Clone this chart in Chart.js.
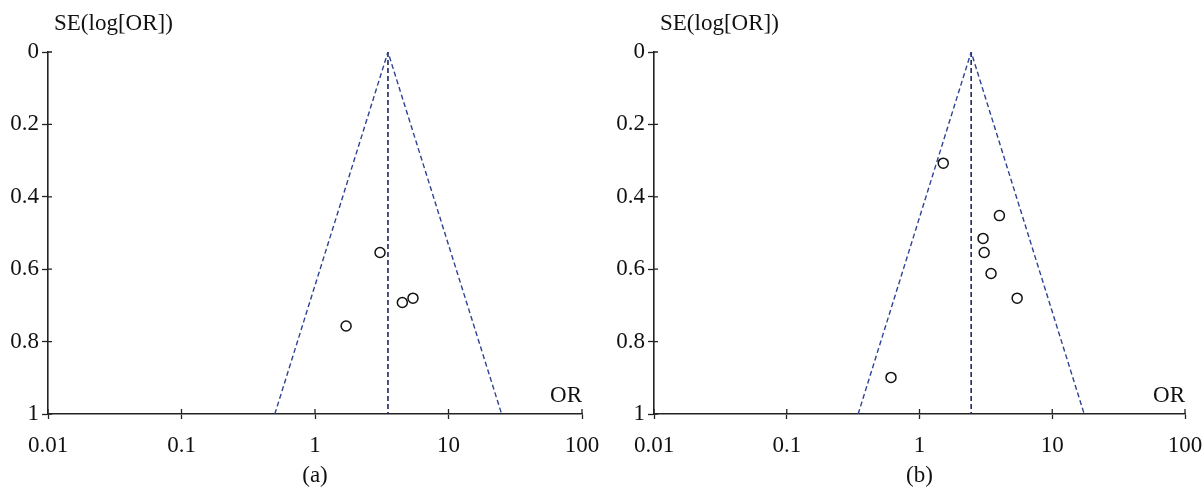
<!DOCTYPE html>
<html>
<head>
<meta charset="utf-8">
<script src="https://cdn.jsdelivr.net/npm/chart.js@4.4.0/dist/chart.umd.min.js"></script>
<style>
body { margin: 0; background: #fff; }
.ChartBox { position: absolute; top: 0; height: 495px; }
</style>
</head>
<body>
<div class="ChartBox" style="left:0;width:600px"><canvas id="ChartA"></canvas></div>
<div class="ChartBox" style="left:600px;width:603px"><canvas id="ChartB"></canvas></div>
<script>
var xTicks = [0.01, 0.1, 1, 10, 100];
var yTicks = [0, 0.2, 0.4, 0.6, 0.8, 1];

// panel (a): studies
var orA = [3.07, 4.51, 5.42, 1.71];
var seA = [0.554, 0.692, 0.680, 0.757];
var pooledA = 3.52;
var funnelA = [0.50, 25.0]; // funnel edges at SE = 1

// panel (b): studies
var orB = [1.51, 4.00, 3.01, 3.07, 3.46, 5.44, 0.61];
var seB = [0.307, 0.452, 0.515, 0.554, 0.612, 0.680, 0.899];
var pooledB = 2.45;
var funnelB = [0.345, 17.4];

var inkColor = '#111';
var axisColor = '#222';
var serif = 'Liberation Serif';

// inner half of the crossing ticks + texts
var panelText = {
    id: 'panelText',
    afterDraw(chart, args, opts) {
        const ctx = chart.ctx, a = chart.chartArea;
        const xs = chart.scales.x, ys = chart.scales.y;
        ctx.save();
        ctx.strokeStyle = axisColor;
        ctx.lineWidth = 1.3;
        ctx.beginPath();
        xTicks.forEach((v) => {
            let px = xs.getPixelForValue(v);
            ctx.moveTo(px, a.bottom);
            ctx.lineTo(px, a.bottom - 5);
        });
        yTicks.forEach((v) => {
            let py = ys.getPixelForValue(v);
            ctx.moveTo(a.left, py);
            ctx.lineTo(a.left + 4, py);
        });
        ctx.stroke();

        ctx.fillStyle = inkColor;
        ctx.textBaseline = 'middle';
        ctx.font = '23px "' + serif + '"';
        ctx.textAlign = 'left';
        ctx.fillText('SE(log[OR])', a.left + 6, 24);
        ctx.textAlign = 'right';
        ctx.fillText('OR', a.right, a.bottom - 18);
        ctx.textAlign = 'center';
        ctx.fillText(opts.caption, (a.left + a.right) / 2, 476);
        ctx.restore();
    }
};

function MakeFunnel(canvasId, ors, ses, pooled, funnel, leftWidth, caption) {
    let points = [];
    ors.forEach((v, i) => {
        points.push({ x: v, y: ses[i] });
    });

    return new Chart(document.getElementById(canvasId), {
        type: 'scatter',
        data: {
            datasets: [{
                data: points,
                pointRadius: 5,
                pointBorderWidth: 1.5,
                pointBorderColor: inkColor,
                pointBackgroundColor: '#fff'
            }, {
                data: [{ x: funnel[0], y: 1 }, { x: pooled, y: 0 }, { x: funnel[1], y: 1 }],
                showLine: true,
                borderColor: '#2f4392',
                borderWidth: 1.4,
                borderDash: [5, 3],
                pointRadius: 0
            }, {
                data: [{ x: pooled, y: 0 }, { x: pooled, y: 1 }],
                showLine: true,
                borderColor: '#1c2766',
                borderWidth: 1.6,
                borderDash: [5, 3],
                pointRadius: 0
            }]
        },
        options: {
            responsive: true,
            maintainAspectRatio: false,
            animation: false,
            layout: {
                padding: { top: 52, bottom: 31, left: 0, right: 18 }
            },
            plugins: {
                legend: { display: false },
                tooltip: { enabled: false },
                panelText: { caption: caption }
            },
            scales: {
                x: {
                    type: 'logarithmic',
                    min: 0.01,
                    max: 100,
                    afterBuildTicks: (scale) => {
                        scale.ticks = xTicks.map((v) => ({ value: v }));
                    },
                    afterFit: (scale) => {
                        scale.height = 50;
                        scale.paddingLeft = 0;
                        scale.paddingRight = 0;
                    },
                    ticks: {
                        color: inkColor,
                        font: { family: serif, size: 23 },
                        padding: 13,
                        maxRotation: 0,
                        autoSkip: false,
                        callback: (v) => String(v)
                    },
                    grid: {
                        drawOnChartArea: false,
                        tickLength: 5,
                        tickWidth: 1.3,
                        tickColor: axisColor
                    },
                    border: { color: axisColor, width: 1.6 }
                },
                y: {
                    min: 0,
                    max: 1,
                    reverse: true,
                    afterBuildTicks: (scale) => {
                        scale.ticks = yTicks.map((v) => ({ value: v }));
                    },
                    afterFit: (scale) => {
                        scale.width = leftWidth;
                        scale.paddingTop = 0;
                        scale.paddingBottom = 0;
                    },
                    ticks: {
                        color: inkColor,
                        font: { family: serif, size: 23 },
                        padding: 3,
                        callback: (v) => String(v)
                    },
                    grid: {
                        drawOnChartArea: false,
                        tickLength: 6,
                        tickWidth: 1.3,
                        tickColor: axisColor
                    },
                    border: { color: axisColor, width: 1.6 }
                }
            }
        },
        plugins: [panelText]
    });
}

MakeFunnel('ChartA', orA, seA, pooledA, funnelA, 48, '(a)');
MakeFunnel('ChartB', orB, seB, pooledB, funnelB, 54, '(b)');
</script>
</body>
</html>
